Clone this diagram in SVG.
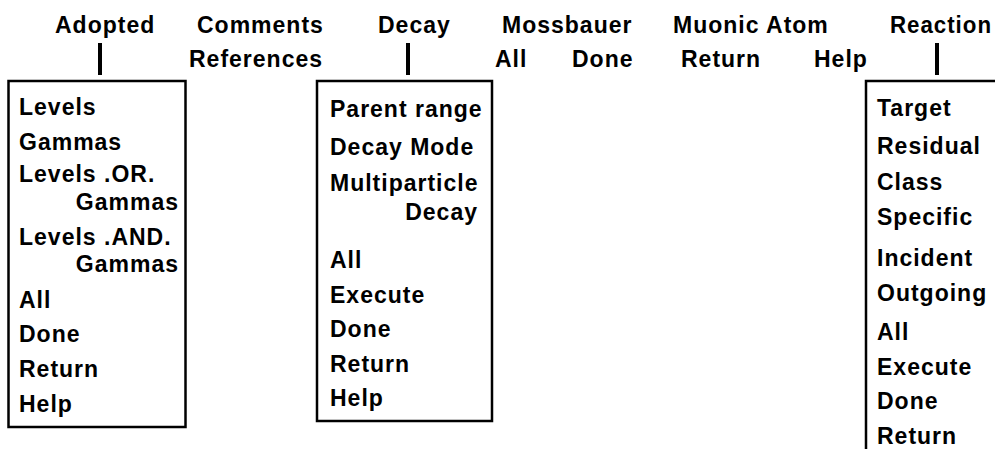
<svg xmlns="http://www.w3.org/2000/svg" width="995" height="449" viewBox="0 0 995 449">
<style>
text{font-family:"Liberation Sans",Arial,sans-serif;font-weight:bold;font-size:23px;letter-spacing:1px;fill:#000}
.box{fill:none;stroke:#000;stroke-width:2.5}
.conn{stroke:#000;stroke-width:4}
.r{text-anchor:end}
</style>
<rect width="995" height="449" fill="#fff"/>
<g id="menu">
<text x="55" y="33">Adopted</text>
<text x="197" y="33">Comments</text>
<text x="378" y="33">Decay</text>
<text x="502" y="33">Mossbauer</text>
<text x="673" y="33">Muonic Atom</text>
<text x="890" y="33" textLength="102" lengthAdjust="spacingAndGlyphs">Reaction</text>
<text x="189" y="67">References</text>
<text x="495" y="67">All</text>
<text x="572" y="67">Done</text>
<text x="681" y="67">Return</text>
<text x="814" y="67">Help</text>
</g>
<g id="connectors">
<line class="conn" x1="100" y1="43" x2="100" y2="75"/>
<line class="conn" x1="408" y1="43" x2="408" y2="75"/>
<line class="conn" x1="937" y1="43" x2="937" y2="75"/>
</g>
<g id="adopted-box">
<rect class="box" x="8.5" y="81" width="177" height="346"/>
<text x="19" y="115">Levels</text>
<text x="19" y="150">Gammas</text>
<text x="19" y="182">Levels .OR.</text>
<text class="r" x="179" y="210">Gammas</text>
<text x="19" y="245">Levels .AND.</text>
<text class="r" x="179" y="272">Gammas</text>
<text x="19" y="308">All</text>
<text x="19" y="342">Done</text>
<text x="19" y="377">Return</text>
<text x="19" y="412">Help</text>
</g>
<g id="decay-box">
<rect class="box" x="317" y="81" width="175" height="340"/>
<text x="330" y="117">Parent range</text>
<text x="330" y="155">Decay Mode</text>
<text x="330" y="191">Multiparticle</text>
<text class="r" x="478" y="220">Decay</text>
<text x="330" y="268">All</text>
<text x="330" y="303">Execute</text>
<text x="330" y="337">Done</text>
<text x="330" y="372">Return</text>
<text x="330" y="406">Help</text>
</g>
<g id="reaction-box">
<path class="box" d="M866,449 V81 H995"/>
<text x="877" y="116">Target</text>
<text x="877" y="154">Residual</text>
<text x="877" y="190">Class</text>
<text x="877" y="225">Specific</text>
<text x="877" y="266">Incident</text>
<text x="877" y="301">Outgoing</text>
<text x="877" y="340">All</text>
<text x="877" y="375">Execute</text>
<text x="877" y="409">Done</text>
<text x="877" y="444">Return</text>
</g>
</svg>
